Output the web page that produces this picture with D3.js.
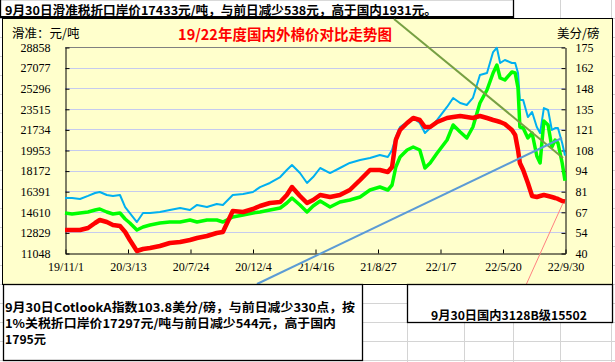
<!DOCTYPE html>
<html>
<head>
<meta charset="utf-8">
<script src="https://cdn.jsdelivr.net/npm/d3@7"></script>
<style>
  body { margin: 0; background: #fff; }
  svg { display: block; }
  .cjk { font-family: "Noto Sans CJK SC", sans-serif; }
  .num { font-family: "Liberation Serif", serif; font-size: 12px; }
</style>
</head>
<body>
<svg id="chart" width="615" height="362"></svg>
<script>
// sample dates (shared by all three series)
const dates = [
  '2019-11-01', '2019-11-16', '2019-12-03', '2019-12-20', '2020-01-04', '2020-01-14', '2020-01-29',
  '2020-02-11', '2020-02-26', '2020-03-08', '2020-03-18', '2020-04-02', '2020-04-15', '2020-04-30',
  '2020-05-21', '2020-06-11', '2020-07-03', '2020-07-24', '2020-08-08', '2020-08-29', '2020-09-19',
  '2020-10-02', '2020-10-23', '2020-11-14', '2020-12-05', '2020-12-20', '2021-01-10', '2021-02-01',
  '2021-02-15', '2021-02-26', '2021-03-15', '2021-03-30', '2021-04-12', '2021-04-27', '2021-05-18',
  '2021-06-08', '2021-06-29', '2021-07-21', '2021-08-11', '2021-09-01', '2021-09-18', '2021-09-27',
  '2021-10-05', '2021-10-14', '2021-10-29', '2021-11-11', '2021-11-25', '2021-12-06', '2021-12-17',
  '2022-01-01', '2022-01-22', '2022-02-04', '2022-02-19', '2022-03-05', '2022-03-18', '2022-04-02',
  '2022-04-17', '2022-04-30', '2022-05-08', '2022-05-15', '2022-05-25', '2022-06-09', '2022-06-16',
  '2022-06-22', '2022-06-26', '2022-07-03', '2022-07-13', '2022-07-22', '2022-08-01', '2022-08-08',
  '2022-08-16', '2022-08-25', '2022-09-02', '2022-09-09', '2022-09-15', '2022-09-24', '2022-09-30'
]

// Cotlook A index, US cents/lb (right axis) - blue
const cotlookA = [
  76.0, 76.0, 75.4, 77.4, 79.3, 80.0, 78.0, 77.4, 78.0, 70.1,
  66.2, 60.3, 66.2, 66.2, 66.9, 68.2, 69.5, 68.2, 71.5, 70.1,
  72.1, 71.5, 78.0, 78.7, 80.0, 83.2, 85.9, 89.8, 94.4, 97.7,
  92.4, 85.9, 89.8, 95.7, 92.4, 95.7, 99.0, 100.9, 102.3, 104.2,
  102.9, 107.5, 116.0, 122.6, 125.8, 128.5, 125.2, 118.6, 121.9, 127.2,
  135.7, 141.6, 138.3, 137.0, 141.6, 156.6, 158.0, 171.7, 174.5, 164.5,
  166.5, 164.5, 164.5, 158.0, 140.3, 140.3, 129.1, 132.4, 122.6, 118.6,
  135.0, 133.7, 120.6, 121.9, 121.9, 112.1, 103.8
]

// import price at port, yuan/ton (left axis) - green
const importPrice = [
  14506, 14420, 14506, 14593, 14766, 14852, 14593, 14420, 14506, 13988,
  13642, 13037, 13296, 13469, 13642, 13728, 13728, 13901, 13728, 13901,
  13901, 13728, 14161, 14333, 14506, 14593, 14766, 14939, 15371, 15803,
  15198, 14593, 15112, 15544, 15025, 15457, 15630, 15890, 16495, 16754,
  16495, 16927, 18484, 19348, 19953, 20213, 19953, 18397, 18829, 19694,
  20818, 22115, 21510, 20991, 21942, 24017, 25141, 26611, 27302, 26178,
  26006, 26697, 26611, 25314, 21942, 21856, 20991, 21423, 19435, 18829,
  22461, 22115, 20213, 20818, 20559, 18829, 17297
]

// domestic 3128B, yuan/ton (left axis) - red
const domestic3128B = [
  13037, 13037, 13037, 13210, 13642, 13901, 13728, 13469, 13382, 12864,
  12172, 11221, 11394, 11480, 11653, 11913, 11999, 12172, 12345, 12518,
  12777, 12864, 14679, 14593, 14852, 15112, 15371, 15457, 16063, 16754,
  15976, 15371, 15630, 16063, 15890, 16063, 16495, 17360, 18224, 18224,
  18051, 18484, 20818, 21683, 22288, 22720, 22547, 21942, 21942, 22374,
  22720, 22807, 22893, 22807, 22720, 22893, 22720, 22547, 22461, 22374,
  22201, 21683, 21250, 19953, 18829, 18224, 17100, 15976, 15890, 15976,
  16063, 15976, 15890, 15803, 15717, 15544, 15502
]

const leftTicks = [11048, 12829, 14610, 16391, 18172, 19953, 21734, 23515, 25296, 27077, 28858]
const rightTicks = [40, 53.5, 67, 80.5, 94, 107.5, 121, 134.5, 148, 161.5, 175]
const rightTickLabels = ['40', '54', '67', '81', '94', '108', '121', '135', '148', '162', '175']
const xTicks = ['2019-11-01', '2020-03-13', '2020-07-24', '2020-12-04', '2021-04-16',
  '2021-08-27', '2022-01-07', '2022-05-20', '2022-09-30']

const parse = d3.timeParse('%Y-%m-%d')
const svg = d3.select('#chart')

// worksheet cell grid
const colLines = [407, 464, 513, 560, 611]
const rowLines = [18, 37, 56, 75, 94, 113, 132, 151, 170, 189, 208, 227, 246, 265, 284, 303, 322, 341, 360]
svg.selectAll('line.col').data(colLines).enter().append('line')
  .attr('x1', d => d + 0.5).attr('x2', d => d + 0.5).attr('y1', 0).attr('y2', 362)
  .attr('stroke', '#d4d4d4')
svg.selectAll('line.row').data(rowLines).enter().append('line')
  .attr('x1', 0).attr('x2', 615).attr('y1', d => d + 0.5).attr('y2', d => d + 0.5)
  .attr('stroke', '#d4d4d4')

// chart area
svg.append('rect')
  .attr('x', 2.5).attr('y', 18.5).attr('width', 610).attr('height', 266)
  .attr('fill', '#ffffcc').attr('stroke', '#000')

const plot = { left: 65, right: 565, top: 47, bottom: 253 }

const x = d3.scaleTime()
  .domain([parse('2019-11-01'), parse('2022-09-30')])
  .range([plot.left, plot.right])
const yL = d3.scaleLinear().domain([11048, 28858]).range([plot.bottom, plot.top])
const yR = d3.scaleLinear().domain([40, 175]).range([plot.bottom, plot.top])

// horizontal gridlines
svg.append('g').selectAll('line')
  .data(leftTicks.slice(1, -1))
  .enter().append('line')
  .attr('x1', plot.left).attr('x2', plot.right)
  .attr('y1', d => Math.round(yL(d)) + 0.5).attr('y2', d => Math.round(yL(d)) + 0.5)
  .attr('stroke', '#c5cbef')

svg.append('line')
  .attr('x1', plot.left).attr('x2', plot.right)
  .attr('y1', plot.top + 0.5).attr('y2', plot.top + 0.5)
  .attr('stroke', '#808080')

// axes
const gL = svg.append('g').attr('transform', `translate(${plot.left + 0.5},0.5)`)
  .call(d3.axisLeft(yL).tickValues(leftTicks).tickFormat(d3.format('d'))
    .tickSizeInner(-4).tickSizeOuter(0).tickPadding(15))
const gR = svg.append('g').attr('transform', `translate(${plot.right + 0.5},0.5)`)
  .call(d3.axisRight(yR).tickValues(rightTicks).tickFormat((d, i) => rightTickLabels[i])
    .tickSizeInner(-4).tickSizeOuter(0).tickPadding(10))
const gB = svg.append('g').attr('transform', `translate(0.5,${plot.bottom + 0.5})`)
  .call(d3.axisBottom(x).tickValues(xTicks.map(parse)).tickFormat(d3.timeFormat('%y/%-m/%-d'))
    .tickSizeInner(-4).tickSizeOuter(0).tickPadding(9))

;[gL, gR, gB].forEach(g => {
  g.attr('font-size', null).attr('font-family', null)
  g.selectAll('text').attr('class', 'num').attr('fill', '#000')
  g.selectAll('line, path').attr('stroke', '#000')
})

// series (blue underneath, red on top)
const series = [
  { values: cotlookA, y: yR, color: '#00b0f0', width: 2 },
  { values: importPrice, y: yL, color: '#00ff00', width: 3.5 },
  { values: domestic3128B, y: yL, color: '#ff0000', width: 4.5 }
]
series.forEach(s => {
  const pts = dates.map((d, i) => [parse(d), s.values[i]])
  svg.append('path')
    .datum(pts)
    .attr('fill', 'none')
    .attr('stroke', s.color)
    .attr('stroke-width', s.width)
    .attr('stroke-linejoin', 'round')
    .attr('d', d3.line().x(d => x(d[0])).y(d => s.y(d[1])))
})

// annotation arrows (drawn shapes)
const arrows = [
  { x1: 394, y1: 19, x2: 563, y2: 158, color: '#77a043', width: 2 },
  { x1: 257, y1: 284, x2: 562, y2: 138, color: '#5b9bd5', width: 2 },
  { x1: 526, y1: 285, x2: 563, y2: 203, color: '#ff8080', width: 1 }
]
svg.selectAll('line.arrow').data(arrows).enter().append('line')
  .attr('x1', d => d.x1).attr('y1', d => d.y1).attr('x2', d => d.x2).attr('y2', d => d.y2)
  .attr('stroke', d => d.color).attr('stroke-width', d => d.width)

// chart titles
svg.append('text').attr('class', 'cjk')
  .attr('x', 12).attr('y', 32).attr('dominant-baseline', 'central')
  .attr('font-size', 12.5).attr('fill', '#000').text('滑准：元/吨')
svg.append('text').attr('class', 'cjk')
  .attr('x', 557).attr('y', 32).attr('dominant-baseline', 'central')
  .attr('font-size', 12.5).attr('fill', '#000').text('美分/磅')
svg.append('text').attr('class', 'cjk')
  .attr('x', 285).attr('y', 33).attr('dominant-baseline', 'central').attr('text-anchor', 'middle')
  .attr('font-size', 14.5).attr('font-weight', 'bold').attr('fill', '#ff0000')
  .text('19/22年度国内外棉价对比走势图')

// text boxes
const boxes = [
  { x: 0, y: -1, w: 513, h: 18 },
  { x: 3, y: 284, w: 359, h: 76 },
  { x: 407, y: 284, w: 205, h: 38 }
]
svg.selectAll('rect.box').data(boxes).enter().append('rect')
  .attr('x', d => d.x + 0.5).attr('y', d => d.y + 0.5).attr('width', d => d.w).attr('height', d => d.h)
  .attr('fill', '#fff').attr('stroke', '#000').attr('stroke-width', 1.3)
svg.append('line').attr('x1', 0).attr('x2', 514).attr('y1', 17).attr('y2', 17)
  .attr('stroke', '#000').attr('stroke-width', 2)

const notes = [
  { x: 5, y: 9, len: 432, t: '9月30日滑准税折口岸价17433元/吨，与前日减少538元，高于国内1931元。' },
  { x: 5, y: 306, len: 350, t: '9月30日CotlookA指数103.8美分/磅，与前日减少330点，按' },
  { x: 5, y: 322, len: 331, t: '1%关税折口岸价17297元/吨与前日减少544元，高于国内' },
  { x: 5, y: 338, len: 41, t: '1795元' },
  { x: 431, y: 314, len: 156, t: '9月30日国内3128B级15502' }
]
svg.selectAll('text.note').data(notes).enter().append('text')
  .attr('class', 'cjk')
  .attr('x', d => d.x).attr('y', d => d.y)
  .attr('dominant-baseline', 'central')
  .attr('font-size', 12).attr('font-weight', 'bold').attr('fill', '#000')
  .attr('textLength', d => d.len).attr('lengthAdjust', 'spacingAndGlyphs')
  .text(d => d.t)
</script>
</body>
</html>
